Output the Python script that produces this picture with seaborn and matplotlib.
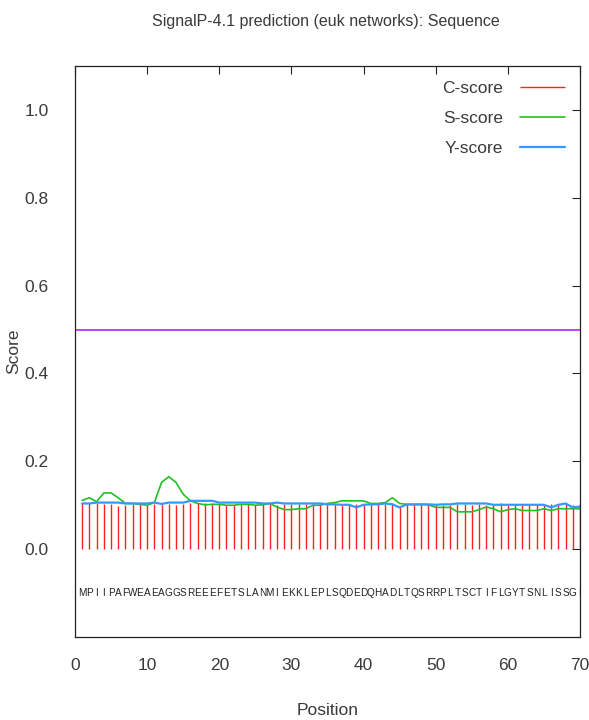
import numpy as np
import pandas as pd
import matplotlib
matplotlib.use("Agg")
import matplotlib.pyplot as plt
import seaborn as sns

# sequence and per-position scores
sequence = "MPIIPAFWEAEAGGSREEEFETSLANMIEKKLEPLSQDEDQHADLTQSRRPLTSCTIFLGYTSNLISSGI"
positions = list(range(1, 71))

c_score = [0.104, 0.104, 0.104, 0.103, 0.103, 0.098, 0.100, 0.103, 0.102, 0.100,
           0.103, 0.103, 0.103, 0.101, 0.103, 0.104, 0.105, 0.104, 0.104, 0.103,
           0.100, 0.101, 0.103, 0.103, 0.101, 0.103, 0.104, 0.101, 0.103, 0.102,
           0.102, 0.102, 0.102, 0.103, 0.102, 0.102, 0.101, 0.103, 0.102, 0.100,
           0.102, 0.103, 0.102, 0.104, 0.098, 0.102, 0.102, 0.102, 0.103, 0.101,
           0.101, 0.100, 0.102, 0.102, 0.101, 0.103, 0.101, 0.102, 0.104, 0.102,
           0.102, 0.103, 0.102, 0.102, 0.101, 0.102, 0.103, 0.102, 0.101, 0.102]

s_score = [0.111, 0.117, 0.108, 0.128, 0.128, 0.117, 0.104, 0.104, 0.102, 0.100,
           0.106, 0.152, 0.165, 0.152, 0.125, 0.110, 0.104, 0.101, 0.102, 0.102,
           0.100, 0.100, 0.102, 0.102, 0.100, 0.101, 0.104, 0.096, 0.090, 0.090,
           0.092, 0.092, 0.100, 0.100, 0.104, 0.106, 0.110, 0.110, 0.110, 0.110,
           0.104, 0.104, 0.106, 0.117, 0.104, 0.102, 0.101, 0.102, 0.101, 0.095,
           0.095, 0.095, 0.085, 0.085, 0.085, 0.090, 0.096, 0.092, 0.085, 0.090,
           0.092, 0.088, 0.088, 0.088, 0.092, 0.088, 0.092, 0.092, 0.092, 0.092]

y_score = [0.104, 0.104, 0.106, 0.106, 0.106, 0.106, 0.104, 0.104, 0.104, 0.104,
           0.106, 0.103, 0.106, 0.106, 0.106, 0.110, 0.110, 0.110, 0.110, 0.106,
           0.106, 0.106, 0.106, 0.106, 0.106, 0.104, 0.104, 0.106, 0.104, 0.104,
           0.104, 0.104, 0.104, 0.104, 0.102, 0.102, 0.101, 0.101, 0.095, 0.101,
           0.102, 0.102, 0.104, 0.102, 0.095, 0.102, 0.102, 0.102, 0.102, 0.101,
           0.102, 0.102, 0.104, 0.104, 0.104, 0.104, 0.104, 0.101, 0.101, 0.101,
           0.101, 0.101, 0.101, 0.101, 0.101, 0.095, 0.101, 0.104, 0.095, 0.097]

cutoff = 0.5

df = pd.DataFrame({"pos": positions, "C": c_score, "S": s_score, "Y": y_score})

sns.set_style("white")
plt.rcParams["font.family"] = ["Liberation Sans", "DejaVu Sans"]
text_col = "#3a3a3a"

fig = plt.figure(figsize=(5.89, 7.2), dpi=100)
ax = fig.add_axes([0.1273, 0.1153, 0.8574, 0.793])

# C-score as impulses
ax.vlines(df["pos"], 0, df["C"], color="#ff2020", lw=1.0, label="C-score")
sns.lineplot(data=df, x="pos", y="S", ax=ax, color="#22c022", lw=1.2, label="S-score")
sns.lineplot(data=df, x="pos", y="Y", ax=ax, color="#3399ff", lw=1.6, label="Y-score")
ax.plot([0, 70], [cutoff, cutoff], color="#c030ff", lw=1.3)

# sequence letters
for p, aa in zip(positions, sequence):
    ax.text(p, -0.1, aa, ha="center", va="center", fontsize=7.2, color="#222222")

ax.set_xlim(0, 70)
ax.set_ylim(-0.2, 1.1)
ax.set_xticks(range(0, 71, 10))
ax.set_yticks(np.arange(0, 1.01, 0.2))
ax.set_yticklabels([f"{v:.1f}" for v in np.arange(0, 1.01, 0.2)])
ax.tick_params(direction="in", length=6, width=0.8, top=True, right=True,
               labelsize=12.5, colors="#222222", labelcolor=text_col, pad=15)
ax.tick_params(axis="y", pad=19)
for sp in ax.spines.values():
    sp.set_color("#222222")
    sp.set_linewidth(0.9)

ax.set_xlabel("Position", fontsize=12.5, color=text_col, labelpad=22)
ax.set_ylabel("Score", fontsize=12.5, color=text_col, labelpad=2)
fig.suptitle("SignalP-4.1 prediction (euk networks): Sequence", fontsize=11.5,
             color=text_col, x=0.553, y=0.98)

ax.legend(loc="upper right", frameon=False, markerfirst=False, fontsize=12.5,
          handlelength=2.6, labelspacing=0.85, borderaxespad=0.45,
          handletextpad=1.0, labelcolor=text_col)

plt.savefig("out.png", dpi=100)
